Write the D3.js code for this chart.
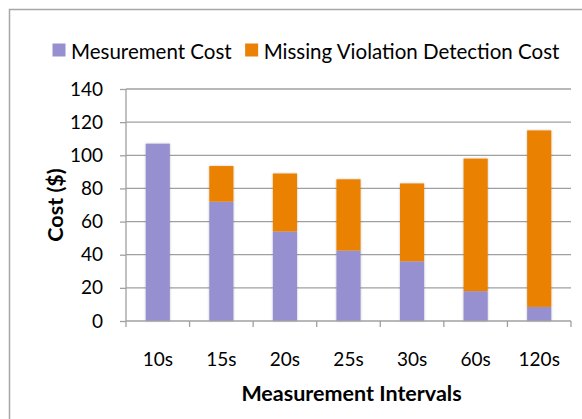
<!DOCTYPE html>
<html>
<head>
<meta charset="utf-8">
<script src="https://cdn.jsdelivr.net/npm/d3@7"></script>
<style>
  html, body { margin: 0; padding: 0; background: #fff; }
  svg { display: block; font-family: Lato, "Open Sans", sans-serif; }
</style>
</head>
<body>
<svg id="chart" width="582" height="419"></svg>
<script>
// Measurement interval categories and stacked cost components ($)
const categories = ["10s", "15s", "20s", "25s", "30s", "60s", "120s"];
const measurementCost = [107, 72, 54, 42.5, 36, 18, 8.5];
const missingDetectionCost = [0, 21.5, 35, 43, 47, 80, 106.5];
const yTicks = [0, 20, 40, 60, 80, 100, 120, 140];
const seriesNames = ["Mesurement Cost", "Missing Violation Detection Cost"];
const seriesColors = ["#9790d0", "#eb8106"];

const svg = d3.select("#chart");
const W = 582, H = 419;
const margin = { left: 126, right: 11, top: 89, bottom: 98 };

// outer frame
svg.append("rect")
  .attr("x", 9.5).attr("y", 9.5)
  .attr("width", W + 20).attr("height", H + 20)
  .attr("fill", "none").attr("stroke", "#a6a6a6").attr("stroke-width", 1.5);

const x = d3.scaleBand().domain(categories)
  .range([margin.left, W - margin.right]).paddingInner(0.62).paddingOuter(0.31);
const y = d3.scaleLinear().domain([0, 140]).range([H - margin.bottom, margin.top]);

// shadow for bars
const defs = svg.append("defs");
const f = defs.append("filter").attr("id", "shadow")
  .attr("x", "-20%").attr("y", "-5%").attr("width", "140%").attr("height", "110%");
f.append("feDropShadow").attr("dx", 0).attr("dy", 0).attr("stdDeviation", 1.2)
  .attr("flood-color", "#000").attr("flood-opacity", 0.25);

// gridlines
svg.append("g").selectAll("line").data(yTicks.filter(d => d > 0)).join("line")
  .attr("x1", margin.left).attr("x2", W - margin.right)
  .attr("y1", d => y(d)).attr("y2", d => y(d))
  .attr("stroke", "#a0a0a0").attr("stroke-width", 1.3);

// stacked bars
const rows = categories.map((c, i) => ({ cat: c, m: measurementCost[i], v: missingDetectionCost[i] }));
const stack = d3.stack().keys(["m", "v"])(rows);
const bars = svg.append("g").attr("filter", "url(#shadow)");
stack.forEach((layer, li) => {
  bars.append("g").attr("fill", seriesColors[li])
    .selectAll("rect").data(layer.filter(d => d[1] > d[0])).join("rect")
    .attr("x", d => x(d.data.cat))
    .attr("width", x.bandwidth())
    .attr("y", d => y(d[1]))
    .attr("height", d => y(d[0]) - y(d[1]));
});

// y axis
const yAxis = svg.append("g").attr("transform", `translate(${margin.left},0)`)
  .call(d3.axisLeft(y).tickValues(yTicks).tickSize(6).tickPadding(17));
// x axis
const xAxis = svg.append("g").attr("transform", `translate(0,${y(0)})`)
  .call(d3.axisBottom(x).tickSize(0).tickPadding(32));
// boundary ticks between categories
const edges = d3.range(categories.length + 1).map(i => margin.left + i * x.step());
xAxis.selectAll("line.edge").data(edges).join("line").attr("class", "edge")
  .attr("x1", d => d).attr("x2", d => d).attr("y1", 0).attr("y2", 6)
  .attr("stroke", "#a0a0a0").attr("stroke-width", 1.3);

[yAxis, xAxis].forEach(a => {
  a.select(".domain").attr("stroke", "#a0a0a0").attr("stroke-width", 1.3);
  a.selectAll(".tick line").attr("stroke", "#a0a0a0").attr("stroke-width", 1.3);
  a.selectAll("text").attr("fill", "#000").attr("font-size", 19)
    .attr("font-family", "Lato, sans-serif");
});
xAxis.select(".domain").attr("d", `M${margin.left},0H${W - margin.right}`);
yAxis.select(".domain").attr("d", `M0,${y(140)}V${y(0)}`);

// axis titles
svg.append("text").attr("x", 351.5).attr("y", 401)
  .attr("text-anchor", "middle").attr("font-size", 21.5).attr("font-weight", "bold")
  .text("Measurement Intervals");
svg.append("text").attr("transform", "translate(63,205) rotate(-90)")
  .attr("text-anchor", "middle").attr("font-size", 21.5).attr("font-weight", "bold")
  .text("Cost ($)");

// legend
const legend = svg.append("g");
let lx = 52.5;
seriesNames.forEach((name, i) => {
  const g = legend.append("g").attr("transform", `translate(${lx},0)`);
  g.append("rect").attr("x", 0).attr("y", 43.5).attr("width", 13).attr("height", 13)
    .attr("fill", seriesColors[i]);
  const t = g.append("text").attr("x", 18.5).attr("y", 59)
    .attr("font-size", 20.5).text(name);
  lx += 18.5 + t.node().getComputedTextLength() + 13.5;
});
</script>
</body>
</html>
